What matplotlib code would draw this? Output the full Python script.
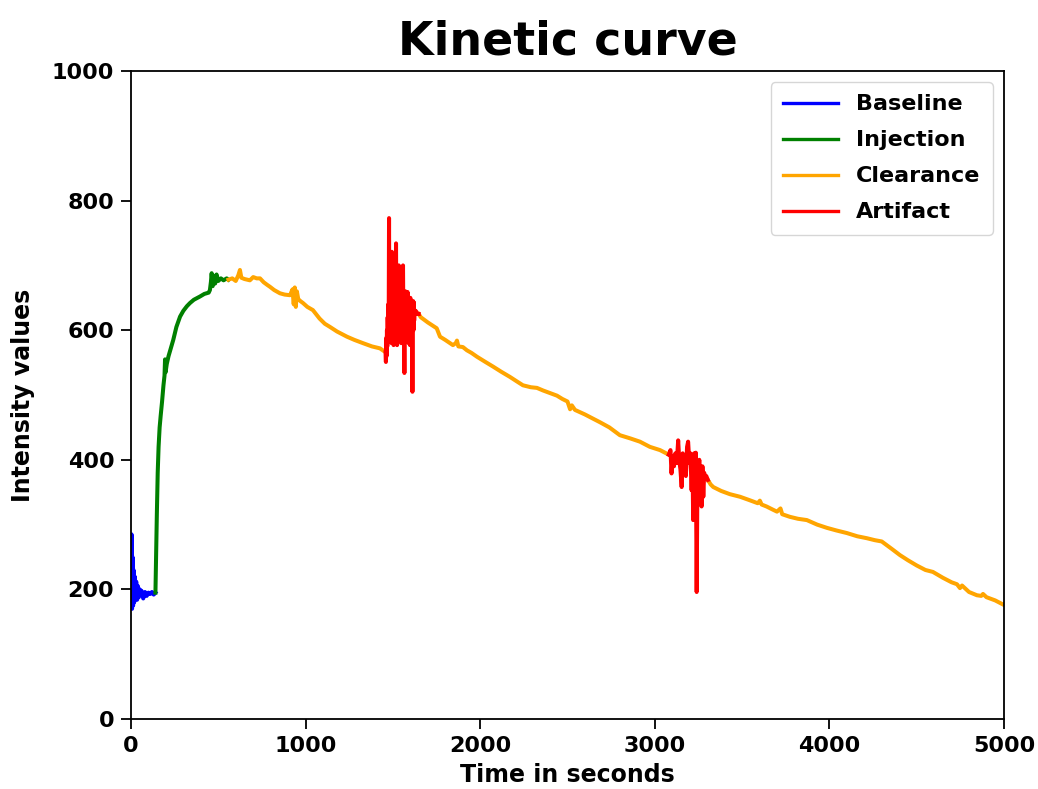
import matplotlib
matplotlib.use("Agg")
import matplotlib.pyplot as plt

# Baseline phase
baseline_t = [0, 3, 6, 9, 12, 15, 18, 21, 25, 30, 35, 40, 45, 50, 55, 60, 70, 80,
              90, 100, 110, 120, 130, 140]
baseline_v = [200, 285, 170, 250, 175, 230, 180, 220, 190, 212, 184, 205, 188, 200,
              192, 198, 186, 196, 190, 195, 193, 196, 192, 195]

# Injection phase
injection_t = [140, 143, 148, 153, 158, 164, 170, 178, 186, 192, 195, 198, 205, 215,
               228, 242, 260, 281, 300, 320, 338, 360, 395, 420, 445, 452, 458, 462,
               468, 475, 482, 490, 500, 515, 530, 548, 558]
injection_v = [195, 240, 315, 380, 420, 450, 468, 490, 515, 530, 555, 535, 548, 560,
               572, 585, 605, 621, 630, 637, 642, 647, 652, 656, 658, 662, 675, 688,
               668, 684, 672, 686, 676, 680, 677, 680, 678]

# Clearance phase (three stretches separated by artifacts)
clearance1_t = [558, 580, 600, 615, 624, 632, 650, 681, 700, 720, 739, 760, 780, 796,
                820, 853, 880, 911, 925, 932, 938, 944, 950, 958, 970, 985, 1010, 1042,
                1080, 1110, 1140, 1180, 1237, 1280, 1329, 1380, 1426, 1458]
clearance1_v = [678, 680, 676, 685, 693, 681, 679, 677, 682, 680, 680, 674, 670, 667,
                662, 657, 655, 654, 663, 640, 666, 636, 660, 648, 645, 642, 636, 631,
                618, 610, 605, 598, 590, 585, 580, 575, 572, 566]

clearance2_t = [1648, 1660, 1700, 1751, 1770, 1800, 1844, 1860, 1867, 1875, 1901, 1924,
                1950, 1982, 2030, 2073, 2120, 2170, 2210, 2245, 2290, 2325, 2360, 2400,
                2440, 2470, 2500, 2515, 2525, 2543, 2600, 2650, 2686, 2740, 2800, 2860,
                2915, 2972, 3030, 3080]
clearance2_v = [625, 620, 612, 603, 590, 585, 577, 580, 584, 575, 574, 569, 565, 559,
                551, 544, 536, 528, 521, 515, 512, 511, 507, 503, 499, 494, 490, 478,
                484, 477, 470, 463, 458, 450, 438, 433, 428, 420, 415, 408]

clearance3_t = [3304, 3320, 3335, 3380, 3430, 3488, 3540, 3590, 3602, 3612, 3640, 3677,
                3700, 3720, 3730, 3774, 3820, 3871, 3930, 3986, 4040, 4100, 4160, 4215,
                4260, 4300, 4310, 4360, 4404, 4450, 4500, 4550, 4593, 4650, 4700, 4731,
                4748, 4760, 4800, 4845, 4870, 4880, 4900, 4950, 5000]
clearance3_v = [369, 362, 358, 352, 347, 343, 338, 333, 337, 331, 328, 323, 320, 325,
                316, 312, 309, 307, 300, 295, 291, 287, 282, 279, 276, 274, 272, 262,
                253, 245, 237, 230, 227, 218, 211, 208, 202, 206, 196, 191, 190, 193,
                188, 183, 176]

# Artifact stretches
artifact1_t = [1458, 1460, 1462, 1464, 1466, 1468, 1470, 1472, 1474, 1476, 1478, 1480,
               1482, 1484, 1486, 1488, 1490, 1492, 1494, 1496, 1498, 1500, 1502, 1504,
               1506, 1508, 1510, 1512, 1514, 1516, 1518, 1520, 1522, 1524, 1526, 1528,
               1530, 1532, 1534, 1536, 1538, 1540, 1542, 1544, 1546, 1548, 1550, 1552,
               1554, 1556, 1558, 1560, 1562, 1564, 1566, 1568, 1570, 1572, 1574, 1576,
               1578, 1580, 1582, 1584, 1586, 1588, 1590, 1592, 1594, 1596, 1598, 1600,
               1602, 1604, 1606, 1608, 1610, 1612, 1614, 1616, 1618, 1620, 1622, 1624,
               1626, 1630, 1636, 1642, 1648]
artifact1_v = [566, 551, 588, 560, 600, 575, 620, 590, 640, 610, 773, 600, 690, 585,
               650, 600, 700, 580, 721, 610, 660, 590, 680, 577, 640, 600, 670, 585,
               650, 610, 734, 600, 690, 577, 660, 600, 640, 585, 700, 610, 650, 590,
               680, 600, 640, 580, 690, 605, 650, 590, 700, 620, 640, 600, 534, 630,
               590, 660, 600, 639, 585, 650, 610, 659, 600, 645, 580, 640, 600, 630,
               577, 650, 605, 640, 590, 620, 600, 505, 610, 645, 600, 643, 615, 630,
               625, 630, 628, 625, 625]

artifact2_t = [3080, 3090, 3096, 3102, 3110, 3118, 3126, 3134, 3140, 3147, 3154, 3160,
               3166, 3172, 3178, 3185, 3191, 3198, 3204, 3211, 3216, 3220, 3225, 3230,
               3235, 3240, 3245, 3249, 3255, 3262, 3268, 3273, 3278, 3283, 3288, 3295,
               3304]
artifact2_v = [408, 415, 379, 405, 390, 410, 395, 430, 400, 385, 358, 410, 390, 400,
               375, 420, 428, 395, 410, 353, 400, 307, 410, 380, 411, 196, 395, 380,
               400, 370, 328, 390, 343, 380, 372, 375, 369]

x_ticks = [0, 1000, 2000, 3000, 4000, 5000]
y_ticks = [0, 200, 400, 600, 800, 1000]

plt.rcParams['font.family'] = ['DejaVu Sans']
plt.rcParams['font.weight'] = 'bold'

fig = plt.figure(figsize=(10.38, 7.89), dpi=100)
ax = fig.add_axes([0.1262, 0.0887, 0.8410, 0.8213])

lw = 2.9
ax.plot(baseline_t, baseline_v, color='blue', lw=lw, label='Baseline')
ax.plot(injection_t, injection_v, color='green', lw=lw, label='Injection')
ax.plot(clearance1_t, clearance1_v, color='orange', lw=lw, label='Clearance')
ax.plot(clearance2_t, clearance2_v, color='orange', lw=lw)
ax.plot(clearance3_t, clearance3_v, color='orange', lw=lw)
ax.plot(artifact1_t, artifact1_v, color='red', lw=lw, label='Artifact')
ax.plot(artifact2_t, artifact2_v, color='red', lw=lw)

ax.set_xlim(0, 5000)
ax.set_ylim(0, 1000)
ax.set_xticks(x_ticks)
ax.set_yticks(y_ticks)
ax.tick_params(labelsize=16, length=7, width=1.3, pad=5)
for lab in ax.get_xticklabels() + ax.get_yticklabels():
    lab.set_fontweight('bold')
for sp in ax.spines.values():
    sp.set_linewidth(1.3)

ax.set_title('Kinetic curve', fontsize=33, fontweight='bold', pad=12)
ax.set_xlabel('Time in seconds', fontsize=17, fontweight='bold', labelpad=5)
ax.set_ylabel('Intensity values', fontsize=17, fontweight='bold', labelpad=12)

leg = ax.legend(loc='upper right', prop={'weight': 'bold', 'size': 16},
                handlelength=2.5, borderpad=0.55, labelspacing=0.72,
                borderaxespad=0.5)
for h in leg.get_lines():
    h.set_linewidth(2.4)

fig.savefig('out.png', dpi=100)
